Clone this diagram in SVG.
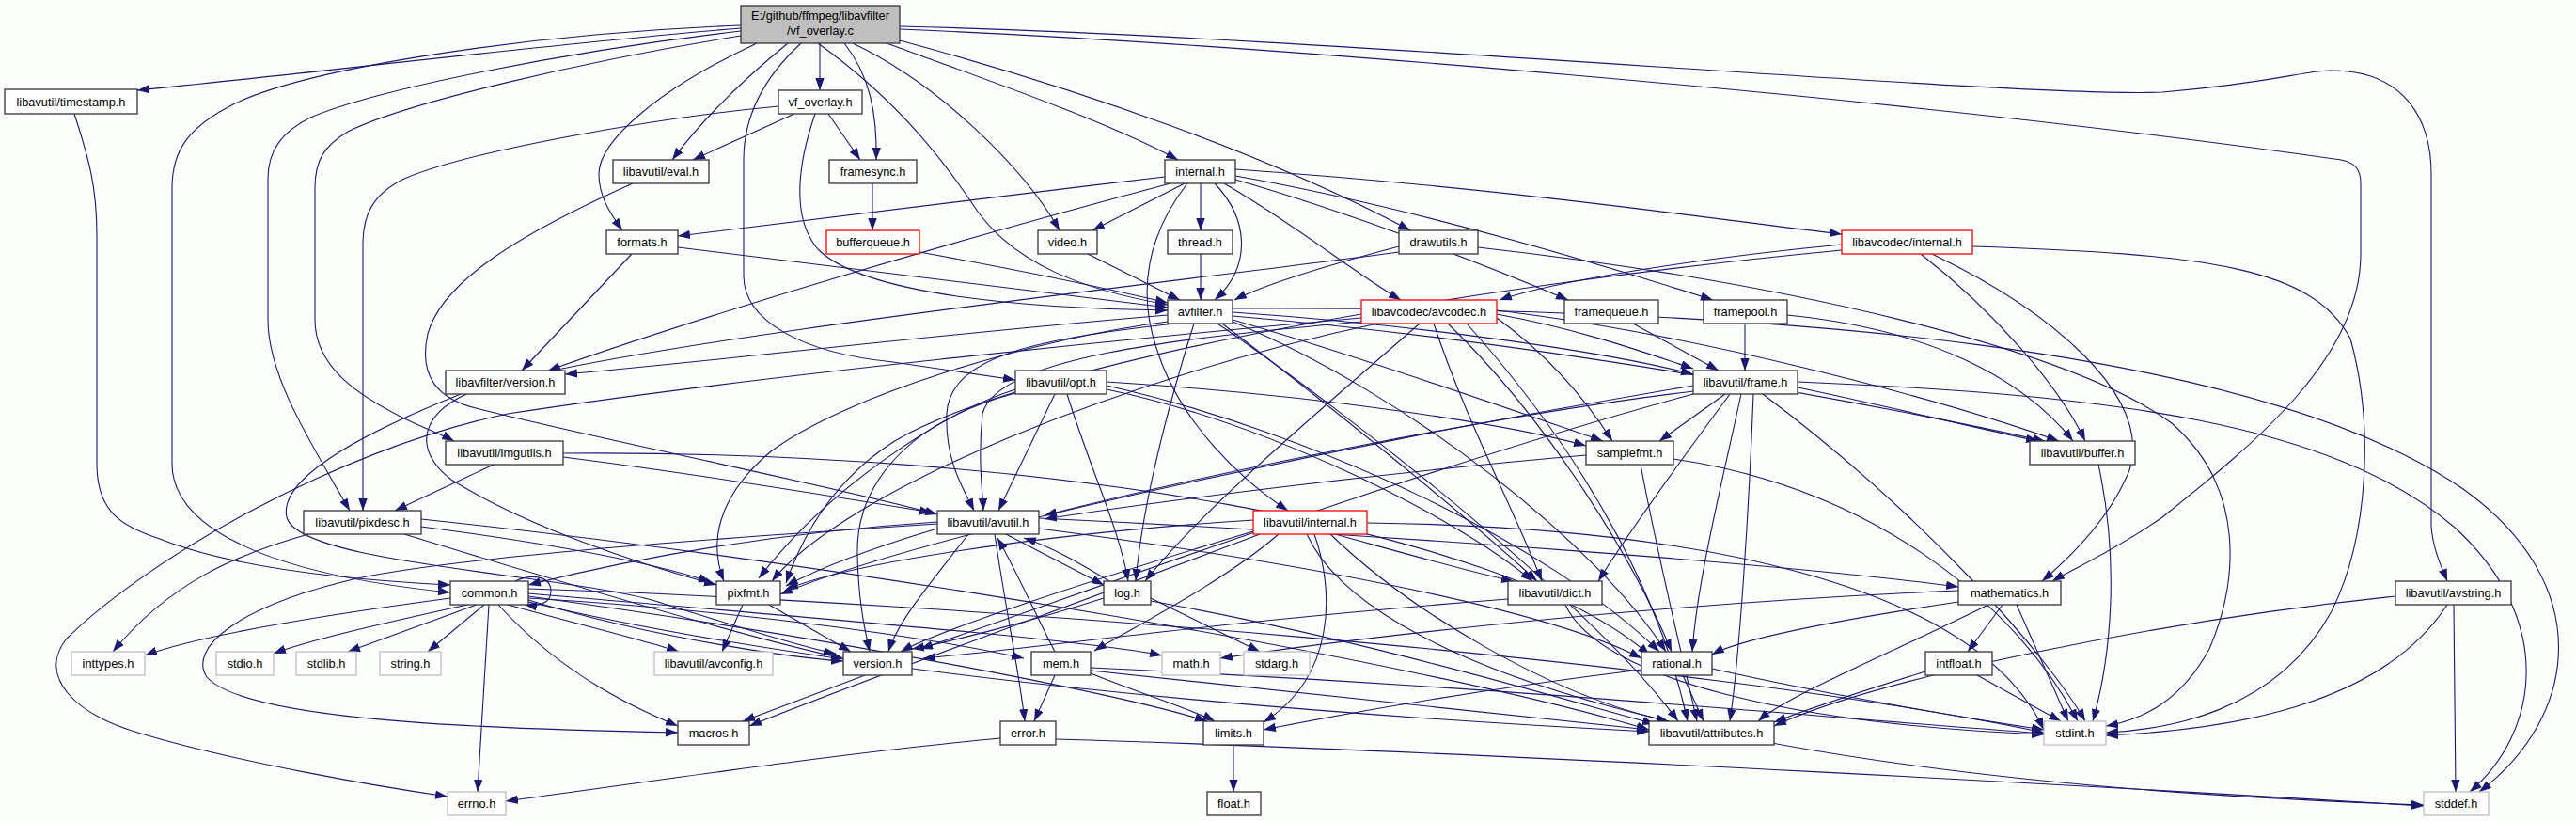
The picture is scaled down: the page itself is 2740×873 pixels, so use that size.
<svg xmlns="http://www.w3.org/2000/svg" width="2740" height="873" viewBox="0 0 2740 873">
<style>
.e{fill:none;stroke:#191970;stroke-width:1.1;marker-end:url(#a)}
.n rect{fill:#ffffff;stroke:#333333;stroke-width:1.3}
.g rect{fill:#ffffff;stroke:#bfbfbf;stroke-width:1.3}
.r rect{fill:#ffffff;stroke:#ff0000;stroke-width:1.3}
.root rect{fill:#bfbfbf;stroke:#333333;stroke-width:1.3}
text{font-family:"Liberation Sans",Arial,sans-serif;font-size:12.8px;text-anchor:middle;fill:#000000}
</style>
<defs>
<marker id="a" markerWidth="14" markerHeight="10" refX="13" refY="4.7" orient="auto" markerUnits="userSpaceOnUse"><path d="M0,0 L13,4.7 L0,9.4 z" fill="#191970"/></marker>
</defs>
<rect x="0" y="0" width="2740" height="873" fill="#fcfefc"/>
<g id="connectors">
<path class="e" d="M788,30 C 600,45 330,78 146,96"/>
<path class="e" d="M788,27 C 560,36 330,72 250,110 C 200,135 183,160 183,200 L183,493 C 183,560 280,610 479,630"/>
<path class="e" d="M788,33 C 600,55 400,95 330,125 C 300,140 285,160 285,190 L285,340 C 285,400 330,470 372,543"/>
<path class="e" d="M788,38 C 620,65 430,110 370,140 C 345,155 335,170 335,200 L335,340 C 335,390 380,420 430,445 C 455,457 470,462 483,469"/>
<path class="e" d="M838,46 C 790,85 745,130 715,170"/>
<path class="e" d="M872,46 L872,96"/>
<path class="e" d="M898,46 C 925,80 933,120 932,170"/>
<path class="e" d="M805,46 C 700,95 637,150 637,185 C 637,210 650,228 662,245"/>
<path class="e" d="M870,46 C 960,110 1010,180 1040,225 C 1080,280 1150,308 1242,324"/>
<path class="e" d="M852,46 C 815,80 791,120 791,170 L791,293 C 791,340 850,375 950,385 C 1000,392 1040,398 1080,404"/>
<path class="e" d="M907,46 C 1000,90 1090,180 1127,245"/>
<path class="e" d="M943,46 C 1050,85 1180,130 1253,170"/>
<path class="e" d="M957,43 C 1150,95 1350,165 1500,245"/>
<path class="e" d="M957,31 C 1300,45 2000,100 2490,170 C 2505,173 2511,180 2511,195 L2511,270 C 2511,380 2400,470 2300,550 C 2250,585 2205,605 2183,618"/>
<path class="e" d="M957,28 C 1400,38 2150,105 2300,98 C 2420,88 2450,75 2480,75 C 2560,75 2586,130 2586,185 L2586,560 C 2588,585 2598,605 2603,618"/>
<path class="e" d="M79,121 C 95,170 103,200 103,250 L103,493 C 103,545 130,560 170,573 C 250,605 380,617 479,622"/>
<path class="e" d="M845,121 L737,170"/>
<path class="e" d="M881,121 L915,170"/>
<path class="e" d="M828,113 C 700,125 500,160 430,190 C 395,207 386,230 386,260 L386,543"/>
<path class="e" d="M867,121 C 850,170 840,230 870,265 C 920,315 1100,328 1242,330"/>
<path class="e" d="M673,195 C 550,250 470,300 455,355 C 445,400 465,425 510,435 C 650,470 900,520 997,547"/>
<path class="e" d="M928,195 L928,245"/>
<path class="e" d="M978,268 C 1100,290 1200,312 1242,322"/>
<path class="e" d="M721,263 C 950,290 1150,315 1242,327"/>
<path class="e" d="M672,270 L555,394"/>
<path class="e" d="M490,419 C 400,455 295,505 305,550 C 318,600 600,610 700,640 C 790,668 860,690 889,695"/>
<path class="e" d="M1239,188 C 1050,210 850,235 721,251"/>
<path class="e" d="M1245,195 C 1000,260 750,335 583,394"/>
<path class="e" d="M1260,195 L1162,245"/>
<path class="e" d="M1277,195 L1277,245"/>
<path class="e" d="M1292,195 C 1330,235 1330,285 1292,319"/>
<path class="e" d="M1263,195 C 1220,250 1210,310 1230,370 C 1255,450 1320,510 1370,543"/>
<path class="e" d="M1302,195 C 1380,240 1440,290 1490,319"/>
<path class="e" d="M1314,191 C 1450,230 1600,290 1668,319"/>
<path class="e" d="M1314,187 C 1500,220 1700,280 1822,319"/>
<path class="e" d="M1314,180 C 1600,200 1800,230 1959,249"/>
<path class="e" d="M1277,270 L1277,319"/>
<path class="e" d="M1157,270 L1255,319"/>
<path class="e" d="M1242,335 C 1000,355 800,380 601,398"/>
<path class="e" d="M1250,344 C 1100,360 1010,380 1007,440 C 1005,490 1025,520 1036,543"/>
<path class="e" d="M1311,336 C 1600,360 1950,420 2175,469"/>
<path class="e" d="M1300,344 C 1400,420 1550,540 1635,618"/>
<path class="e" d="M1311,332 C 1500,345 1700,372 1801,398"/>
<path class="e" d="M1270,344 C 1240,440 1215,540 1208,618"/>
<path class="e" d="M1311,340 C 1450,380 1620,440 1705,469"/>
<path class="e" d="M1242,342 C 1100,360 900,420 820,480 C 760,530 755,580 770,618"/>
<path class="e" d="M1311,342 C 1500,420 1700,580 1772,693"/>
<path class="e" d="M1295,344 C 1450,450 1700,650 1785,767"/>
<path class="e" d="M1311,328 C 1900,325 2400,370 2620,520 C 2760,620 2745,760 2637,842"/>
<path class="e" d="M1488,262 C 1420,280 1350,300 1313,319"/>
<path class="e" d="M1488,268 C 1250,300 700,360 520,410 C 440,435 440,480 480,510 C 560,560 680,600 762,622"/>
<path class="e" d="M1572,263 C 1900,300 2200,370 2310,450 C 2390,520 2380,620 2350,690 C 2320,745 2280,765 2240,772"/>
<path class="e" d="M1448,338 C 1200,360 800,400 540,440 C 350,480 150,600 70,680 C 40,720 80,760 150,780 C 250,810 400,836 476,847"/>
<path class="e" d="M1465,344 C 1200,400 900,520 821,618"/>
<path class="e" d="M1448,342 C 1250,360 1060,380 1045,440 C 1040,490 1045,520 1046,543"/>
<path class="e" d="M1510,344 C 1400,440 1280,540 1218,618"/>
<path class="e" d="M1525,344 C 1560,450 1610,540 1640,618"/>
<path class="e" d="M1540,344 C 1650,450 1740,600 1778,693"/>
<path class="e" d="M1560,344 C 1700,500 1770,650 1795,767"/>
<path class="e" d="M1592,338 C 1650,380 1690,430 1715,469"/>
<path class="e" d="M1592,334 C 1680,350 1750,375 1801,392"/>
<path class="e" d="M1592,330 C 1800,355 2050,420 2190,469"/>
<path class="e" d="M1959,260 C 1800,275 1650,300 1595,319"/>
<path class="e" d="M1959,266 C 1600,300 1100,380 950,470 C 880,515 850,580 836,620"/>
<path class="e" d="M2043,270 C 2120,330 2190,410 2218,469"/>
<path class="e" d="M2055,270 C 2180,330 2290,420 2265,500 C 2245,550 2205,590 2172,618"/>
<path class="e" d="M2098,262 C 2350,270 2460,285 2500,360 C 2525,450 2520,570 2480,650 C 2420,760 2300,776 2240,779"/>
<path class="e" d="M1737,344 L1828,394"/>
<path class="e" d="M1856,344 L1856,394"/>
<path class="e" d="M1901,335 C 2050,350 2150,400 2205,469"/>
<path class="e" d="M1801,416 C 1600,440 1300,500 1111,548"/>
<path class="e" d="M1912,412 C 2000,430 2100,455 2168,469"/>
<path class="e" d="M1840,419 C 1780,500 1730,570 1700,618"/>
<path class="e" d="M1852,419 C 1830,520 1805,620 1800,693"/>
<path class="e" d="M1835,419 L1765,469"/>
<path class="e" d="M1801,410 C 1500,460 1000,560 830,632"/>
<path class="e" d="M1801,419 C 1500,500 1100,650 979,690"/>
<path class="e" d="M1875,419 C 2050,550 2180,700 2218,767"/>
<path class="e" d="M1865,419 C 1860,550 1850,700 1840,767"/>
<path class="e" d="M1912,406 C 2250,420 2480,450 2610,560 C 2720,660 2700,780 2627,842"/>
<path class="e" d="M2232,494 C 2255,600 2245,700 2226,767"/>
<path class="e" d="M1687,484 C 1500,500 1250,530 1111,552"/>
<path class="e" d="M1745,494 C 1765,600 1790,700 1805,767"/>
<path class="e" d="M1780,488 C 2000,520 2150,650 2210,767"/>
<path class="e" d="M1122,419 L1062,543"/>
<path class="e" d="M1177,414 C 1350,450 1550,550 1630,618"/>
<path class="e" d="M1135,419 C 1160,500 1190,560 1200,618"/>
<path class="e" d="M1080,414 C 1000,440 880,520 807,615"/>
<path class="e" d="M1177,410 C 1400,460 1650,580 1765,693"/>
<path class="e" d="M1177,406 C 1400,420 1600,450 1687,474"/>
<path class="e" d="M1080,418 C 960,450 910,520 912,590 C 913,640 920,670 925,693"/>
<path class="e" d="M599,486 C 750,505 900,530 991,545"/>
<path class="e" d="M525,494 L420,543"/>
<path class="e" d="M599,482 C 1100,478 1600,560 1755,697"/>
<path class="e" d="M328,568 C 250,590 180,620 120,693"/>
<path class="e" d="M448,560 C 600,580 700,600 756,619"/>
<path class="e" d="M430,568 C 600,620 800,680 897,700"/>
<path class="e" d="M448,552 C 900,600 1500,700 1754,776"/>
<path class="e" d="M997,555 C 800,568 650,600 562,622"/>
<path class="e" d="M1058,568 C 1070,650 1085,720 1090,767"/>
<path class="e" d="M1105,562 C 1400,600 1650,650 1746,700"/>
<path class="e" d="M1030,568 C 990,620 955,660 945,693"/>
<path class="e" d="M997,557 C 800,570 500,590 380,615 C 250,645 200,690 220,720 C 260,765 500,775 721,779"/>
<path class="e" d="M1105,551 C 1500,570 1900,600 2083,624"/>
<path class="e" d="M1070,568 L1174,622"/>
<path class="e" d="M997,562 C 920,585 870,605 836,623"/>
<path class="e" d="M1333,553 C 1100,568 900,600 836,627"/>
<path class="e" d="M1333,565 C 1150,620 1000,670 958,693"/>
<path class="e" d="M1420,568 C 1500,590 1570,610 1610,618"/>
<path class="e" d="M1340,568 C 1150,640 900,730 797,772"/>
<path class="e" d="M1360,568 C 1300,620 1200,670 1164,692"/>
<path class="e" d="M1398,568 C 1420,630 1420,720 1344,768"/>
<path class="e" d="M1415,568 C 1500,650 1650,740 1775,767"/>
<path class="e" d="M1454,556 C 1800,560 2100,620 2174,776"/>
<path class="e" d="M1390,568 C 1450,700 1800,830 2578,856"/>
<path class="e" d="M1604,637 C 1300,660 1100,690 982,700"/>
<path class="e" d="M1665,643 C 1700,720 1900,770 2174,781"/>
<path class="e" d="M2083,628 C 1800,640 1500,670 1298,700"/>
<path class="e" d="M2083,640 C 1950,660 1850,680 1821,696"/>
<path class="e" d="M2130,643 L2093,693"/>
<path class="e" d="M2115,643 C 2000,700 1900,740 1870,767"/>
<path class="e" d="M2145,643 L2200,767"/>
<path class="e" d="M2548,634 C 2300,660 2000,720 1887,772"/>
<path class="e" d="M2603,643 C 2540,740 2400,775 2240,782"/>
<path class="e" d="M2610,643 L2612,842"/>
<path class="e" d="M520,643 L508,842"/>
<path class="e" d="M479,636 C 300,660 200,680 154,697"/>
<path class="e" d="M562,634 C 900,680 1200,740 1284,767"/>
<path class="e" d="M562,631 C 900,660 1150,680 1236,697"/>
<path class="e" d="M562,626 C 1000,640 1800,700 2174,779"/>
<path class="e" d="M497,643 C 420,660 330,680 291,695"/>
<path class="e" d="M507,643 L370,693"/>
<path class="e" d="M515,643 L455,693"/>
<path class="e" d="M562,640 C 900,720 1400,760 1754,778"/>
<path class="e" d="M530,643 C 600,720 680,755 721,772"/>
<path class="e" d="M562,638 C 700,680 850,700 897,703"/>
<path class="e" d="M540,643 C 620,665 700,685 722,693"/>
<path class="e" d="M562,636 C 800,650 1000,680 1089,700"/>
<path class="e" d="M548,618 C 565,610 586,612 586,629 C 586,642 572,645 558,643"/>
<path class="e" d="M790,643 L768,693"/>
<path class="e" d="M818,643 L905,693"/>
<path class="e" d="M1180,618 C 1150,600 1120,582 1089,572"/>
<path class="e" d="M1224,636 L1340,693"/>
<path class="e" d="M1174,636 C 1100,660 1000,685 970,690"/>
<path class="e" d="M1224,639 C 1450,680 1650,740 1760,770"/>
<path class="e" d="M920,718 L790,767"/>
<path class="e" d="M1122,693 C 1100,650 1080,605 1061,572"/>
<path class="e" d="M1122,718 L1100,767"/>
<path class="e" d="M1160,716 C 1220,740 1270,755 1292,767"/>
<path class="e" d="M1160,713 C 1400,740 1600,760 1754,776"/>
<path class="e" d="M1160,710 C 1600,730 1900,760 2174,780"/>
<path class="e" d="M1821,711 C 1950,740 2100,765 2174,776"/>
<path class="e" d="M1746,712 C 1600,730 1450,755 1344,776"/>
<path class="e" d="M1790,718 L1812,767"/>
<path class="e" d="M2103,718 L2192,767"/>
<path class="e" d="M2048,714 C 1980,735 1920,755 1887,768"/>
<path class="e" d="M1064,785 C 900,800 700,830 538,852"/>
<path class="e" d="M1123,786 C 1600,800 2300,840 2578,857"/>
<path class="e" d="M1312,792 L1312,842"/>
</g>
<g id="root" class="root"><rect x="788" y="6" width="169" height="40"/><text x="872.5" y="21">E:/github/ffmpeg/libavfilter</text><text x="872.5" y="37">/vf_overlay.c</text></g>
<g id="timestamp" class="n"><rect x="5" y="95" width="141" height="26"/><text x="75.5" y="112.5">libavutil/timestamp.h</text></g>
<g id="vf_overlay_h" class="n"><rect x="828" y="96" width="89" height="25"/><text x="872.5" y="113">vf_overlay.h</text></g>
<g id="eval" class="n"><rect x="652" y="170" width="102" height="25"/><text x="703" y="187">libavutil/eval.h</text></g>
<g id="framesync" class="n"><rect x="882" y="170" width="93" height="25"/><text x="928.5" y="187">framesync.h</text></g>
<g id="formats" class="n"><rect x="645" y="245" width="76" height="25"/><text x="683" y="262">formats.h</text></g>
<g id="bufferqueue" class="r"><rect x="879" y="245" width="99" height="25"/><text x="928.5" y="262">bufferqueue.h</text></g>
<g id="lavfi_version" class="n"><rect x="474" y="394" width="127" height="25"/><text x="537.5" y="411">libavfilter/version.h</text></g>
<g id="video" class="n"><rect x="1104" y="245" width="63" height="25"/><text x="1135.5" y="262">video.h</text></g>
<g id="internal" class="n"><rect x="1239" y="170" width="75" height="25"/><text x="1276.5" y="187">internal.h</text></g>
<g id="thread" class="n"><rect x="1242" y="245" width="69" height="25"/><text x="1276.5" y="262">thread.h</text></g>
<g id="avfilter" class="n"><rect x="1242" y="319" width="69" height="25"/><text x="1276.5" y="336">avfilter.h</text></g>
<g id="opt" class="n"><rect x="1080" y="394" width="97" height="25"/><text x="1128.5" y="411">libavutil/opt.h</text></g>
<g id="drawutils" class="n"><rect x="1488" y="245" width="84" height="25"/><text x="1530" y="262">drawutils.h</text></g>
<g id="avcodec" class="r"><rect x="1448" y="319" width="144" height="25"/><text x="1520" y="336">libavcodec/avcodec.h</text></g>
<g id="framequeue" class="n"><rect x="1664" y="319" width="100" height="25"/><text x="1714" y="336">framequeue.h</text></g>
<g id="lavc_internal" class="r"><rect x="1959" y="245" width="139" height="25"/><text x="2028.5" y="262">libavcodec/internal.h</text></g>
<g id="framepool" class="n"><rect x="1812" y="319" width="89" height="25"/><text x="1856.5" y="336">framepool.h</text></g>
<g id="frame" class="n"><rect x="1801" y="394" width="111" height="25"/><text x="1856.5" y="411">libavutil/frame.h</text></g>
<g id="buffer" class="n"><rect x="2159" y="469" width="112" height="25"/><text x="2215" y="486">libavutil/buffer.h</text></g>
<g id="samplefmt" class="n"><rect x="1687" y="469" width="93" height="25"/><text x="1733.5" y="486">samplefmt.h</text></g>
<g id="imgutils" class="n"><rect x="474" y="469" width="125" height="25"/><text x="536.5" y="486">libavutil/imgutils.h</text></g>
<g id="pixdesc" class="n"><rect x="323" y="543" width="125" height="25"/><text x="385.5" y="560">libavutil/pixdesc.h</text></g>
<g id="avutil" class="n"><rect x="997" y="543" width="108" height="25"/><text x="1051" y="560">libavutil/avutil.h</text></g>
<g id="lavu_internal" class="r"><rect x="1333" y="543" width="121" height="25"/><text x="1393.5" y="560">libavutil/internal.h</text></g>
<g id="dict" class="n"><rect x="1604" y="618" width="100" height="25"/><text x="1654" y="635">libavutil/dict.h</text></g>
<g id="mathematics" class="n"><rect x="2083" y="618" width="109" height="25"/><text x="2137.5" y="635">mathematics.h</text></g>
<g id="avstring" class="n"><rect x="2548" y="618" width="123" height="25"/><text x="2609.5" y="635">libavutil/avstring.h</text></g>
<g id="common" class="n"><rect x="479" y="618" width="83" height="25"/><text x="520.5" y="635">common.h</text></g>
<g id="pixfmt" class="n"><rect x="762" y="618" width="68" height="25"/><text x="796" y="635">pixfmt.h</text></g>
<g id="log" class="n"><rect x="1174" y="618" width="50" height="25"/><text x="1199" y="635">log.h</text></g>
<g id="version" class="n"><rect x="897" y="693" width="73" height="25"/><text x="933.5" y="710">version.h</text></g>
<g id="mem" class="n"><rect x="1097" y="693" width="63" height="25"/><text x="1128.5" y="710">mem.h</text></g>
<g id="math_h" class="g"><rect x="1236" y="693" width="62" height="25"/><text x="1267" y="710">math.h</text></g>
<g id="stdarg" class="g"><rect x="1323" y="693" width="70" height="25"/><text x="1358" y="710">stdarg.h</text></g>
<g id="rational" class="n"><rect x="1746" y="693" width="75" height="25"/><text x="1783.5" y="710">rational.h</text></g>
<g id="intfloat" class="n"><rect x="2048" y="693" width="71" height="25"/><text x="2083.5" y="710">intfloat.h</text></g>
<g id="inttypes" class="g"><rect x="76" y="693" width="78" height="25"/><text x="115" y="710">inttypes.h</text></g>
<g id="stdio" class="g"><rect x="230" y="693" width="61" height="25"/><text x="260.5" y="710">stdio.h</text></g>
<g id="stdlib" class="g"><rect x="315" y="693" width="64" height="25"/><text x="347" y="710">stdlib.h</text></g>
<g id="string" class="g"><rect x="404" y="693" width="65" height="25"/><text x="436.5" y="710">string.h</text></g>
<g id="avconfig" class="g"><rect x="696" y="693" width="126" height="25"/><text x="759" y="710">libavutil/avconfig.h</text></g>
<g id="macros" class="n"><rect x="721" y="767" width="76" height="25"/><text x="759" y="784">macros.h</text></g>
<g id="error" class="n"><rect x="1064" y="767" width="59" height="25"/><text x="1093.5" y="784">error.h</text></g>
<g id="limits" class="n"><rect x="1280" y="767" width="64" height="25"/><text x="1312" y="784">limits.h</text></g>
<g id="attributes" class="n"><rect x="1754" y="767" width="133" height="25"/><text x="1820.5" y="784">libavutil/attributes.h</text></g>
<g id="stdint" class="g"><rect x="2174" y="767" width="66" height="25"/><text x="2207" y="784">stdint.h</text></g>
<g id="errno" class="g"><rect x="476" y="842" width="62" height="25"/><text x="507" y="859">errno.h</text></g>
<g id="float" class="n"><rect x="1284" y="842" width="57" height="25"/><text x="1312.5" y="859">float.h</text></g>
<g id="stddef" class="g"><rect x="2578" y="842" width="69" height="25"/><text x="2612.5" y="859">stddef.h</text></g>
</svg>
